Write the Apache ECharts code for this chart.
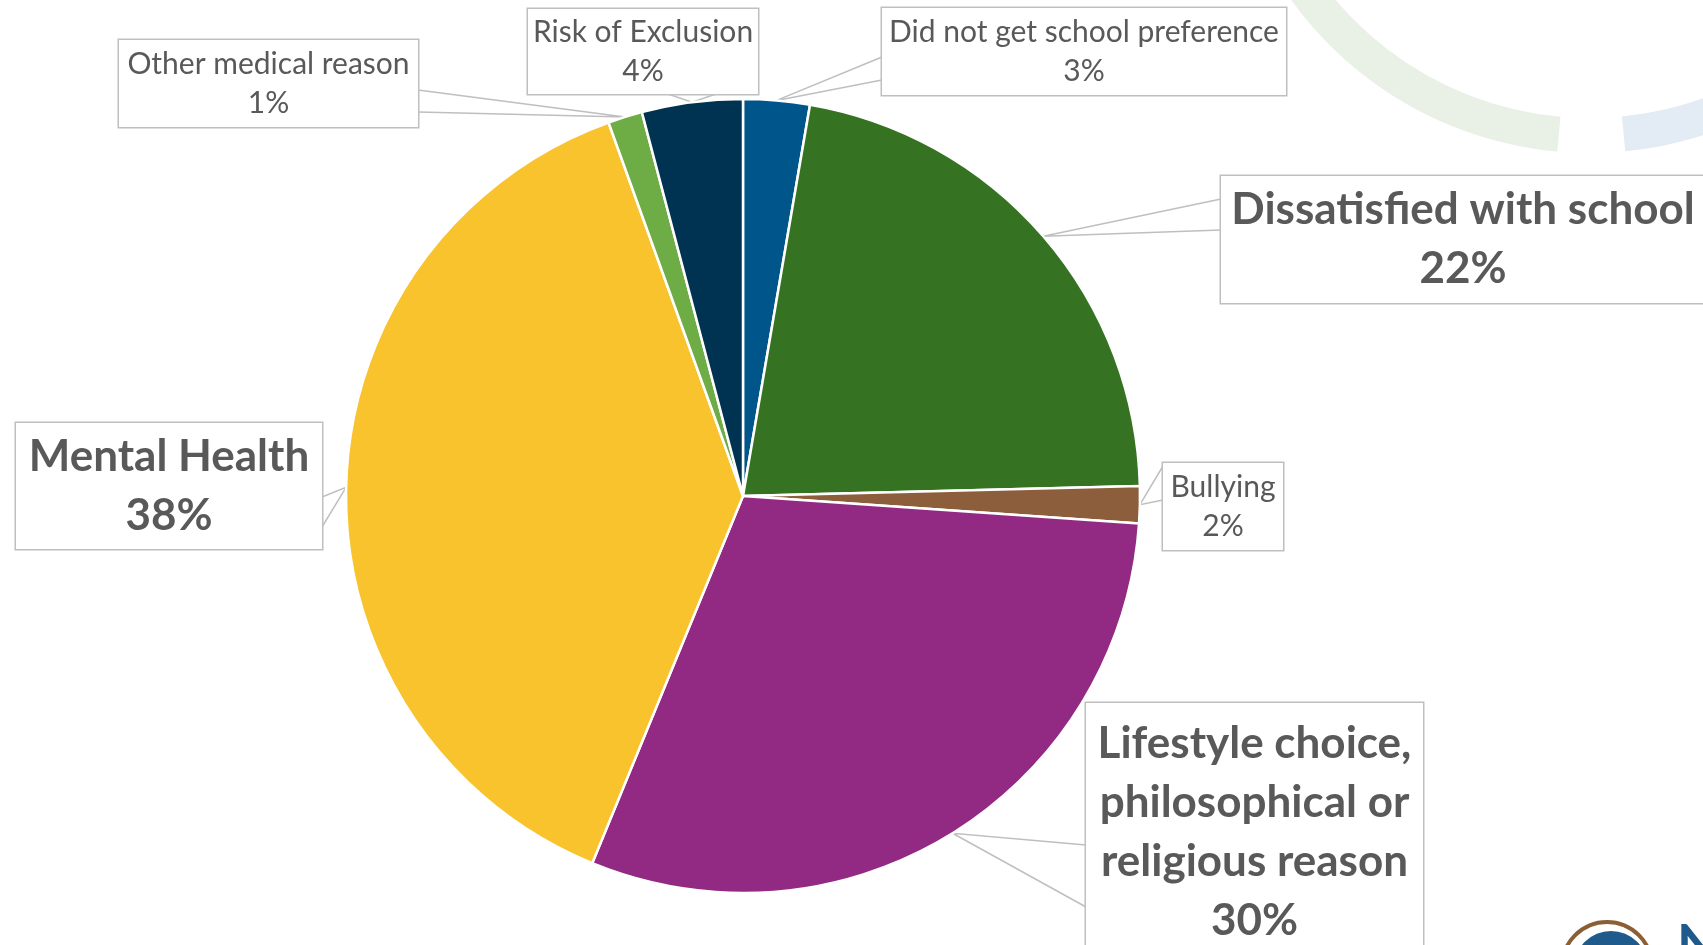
<!DOCTYPE html>
<html><head><meta charset="utf-8">
<script src="https://cdn.jsdelivr.net/npm/echarts@6/dist/echarts.min.js"></script>
<style>html,body{margin:0;padding:0;background:#fff}#c{width:1703px;height:945px}</style>
</head><body><div id="c"></div>
<script>
// ---- data ----
const categories = ['Did not get school preference', 'Dissatisfied with school', 'Bullying',
  'Lifestyle choice, philosophical or religious reason', 'Mental Health', 'Other medical reason', 'Risk of Exclusion'];
// how each category name is wrapped inside its callout
const labelText = ['Did not get school preference', 'Dissatisfied with school', 'Bullying',
  'Lifestyle choice,\nphilosophical or\nreligious reason', 'Mental Health', 'Other medical reason', 'Risk of Exclusion'];
const shares = [2.7, 21.9, 1.5, 30.1, 38.3, 1.4, 4.1];
const highlighted = [false, true, false, true, true, false, false];

// ---- styles ----
const colors = ['#00558A', '#357322', '#8C5E3C', '#922A83', '#F9C32D', '#6EAD46', '#003352'];
// callout boxes (px), wedge attach points, text top padding
const boxes = [
  {x: 882, y: 8, w: 404, h: 87, a: [882, 57], b: [882, 80], pt: 7.5},
  {x: 1221, y: 176, w: 484, h: 127, a: [1221, 199], b: [1221, 230], pt: 8},
  {x: 1163, y: 463, w: 120, h: 87, a: [1163, 466], b: [1163, 500], pt: 7.5},
  {x: 1086, y: 703, w: 337, h: 258, a: [1086, 845], b: [1086, 907], pt: 5},
  {x: 16, y: 423, w: 306, h: 126, a: [322, 497], b: [322, 527], pt: 6},
  {x: 119, y: 40, w: 299, h: 87, a: [418, 90], b: [418, 112], pt: 7.5},
  {x: 528, y: 9, w: 230, h: 85, a: [668, 94], b: [716, 94], pt: 6.5}
];
const SMALL = {fontSize: 30, lineHeight: 39, fontWeight: 'normal'};
const BIG = {fontSize: 44, lineHeight: 59, fontWeight: 'bold'};

const data = categories.map((name, i) => {
  const st = highlighted[i] ? BIG : SMALL;
  const b = boxes[i];
  const lines = labelText[i].split('\n').length + 1;
  const padTop = b.pt;
  const padBottom = b.h - lines * st.lineHeight - padTop;
  return {
    name, value: shares[i],
    itemStyle: {color: colors[i]},
    label: {
      fontSize: st.fontSize, lineHeight: st.lineHeight, fontWeight: st.fontWeight,
      width: b.w, padding: [padTop, 0, padBottom, 0], overflow: 'none'
    }
  };
});

const chart = echarts.init(document.getElementById('c'), null, {renderer: 'canvas'});
const rad = d => d * Math.PI / 180;
chart.setOption({
  backgroundColor: '#ffffff',
  animation: false,
  graphic: [
    {type: 'sector', silent: true, z: -10,
     shape: {cx: 1590, cy: -215, r: 368, r0: 333, startAngle: rad(95.1), endAngle: rad(160)},
     style: {fill: '#E9F0E6'}},
    {type: 'sector', silent: true, z: -10,
     shape: {cx: 1590, cy: -215, r: 368, r0: 333, startAngle: rad(20), endAngle: rad(84.5)},
     style: {fill: '#E3ECF4'}},
    {type: 'circle', silent: true, shape: {cx: 1607, cy: 967, r: 45},
     style: {fill: 'none', stroke: '#8B5E34', lineWidth: 4}},
    {type: 'circle', silent: true, shape: {cx: 1611, cy: 968, r: 37},
     style: {fill: '#1F5A8C'}},
    {type: 'text', silent: true, x: 1677, y: 919,
     style: {text: 'N', font: 'bold 54px Lato', fill: '#1F5A8C', verticalAlign: 'top'}}
  ],
  series: [{
    type: 'pie',
    center: [743, 496],
    radius: [0, 397],
    startAngle: 90,
    clockwise: true,
    avoidLabelOverlap: false,
    itemStyle: {borderColor: '#ffffff', borderWidth: 2.5},
    label: {
      show: true, position: 'outside',
      formatter: p => labelText[p.dataIndex] + '\n' + Math.round(p.value) + '%',
      color: '#595959', fontFamily: 'Lato', align: 'center',
      backgroundColor: '#ffffff', borderColor: '#BFBFBF', borderWidth: 1.5
    },
    labelLine: {show: true, smooth: false, lineStyle: {color: '#BFBFBF', width: 1.5}},
    labelLayout: function (p) {
      const b = boxes[p.dataIndex];
      const tip = p.labelLinePoints[0];
      return {
        x: b.x + b.w / 2, y: b.y + b.h / 2, align: 'center', verticalAlign: 'middle',
        labelLinePoints: [b.a, tip, b.b]
      };
    },
    emphasis: {disabled: true},
    data: data
  }]
});
</script></body></html>
